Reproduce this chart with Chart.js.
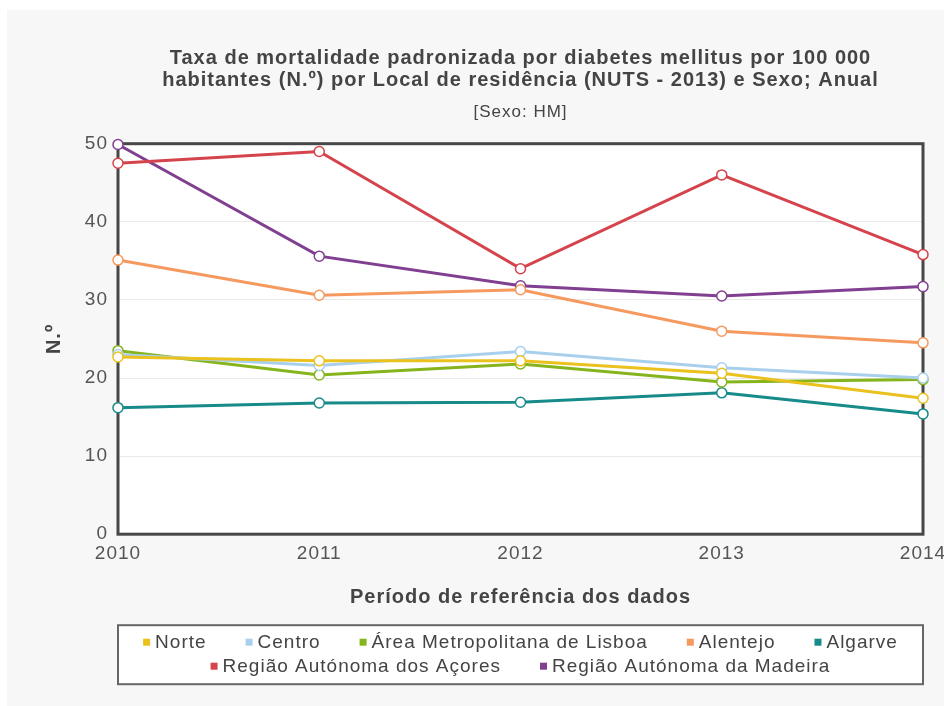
<!DOCTYPE html>
<html>
<head>
<meta charset="utf-8">
<script src="https://cdn.jsdelivr.net/npm/chart.js@4.4.1/dist/chart.umd.min.js"></script>
<style>
  body { margin: 0; background: #fff; }
  canvas { display: block; }
</style>
</head>
<body>
<canvas id="myChart" width="944" height="706"></canvas>
<script>
// data
const years = ['2010', '2011', '2012', '2013', '2014'];
const norte    = [22.7, 22.2, 22.2, 20.6, 17.4];
const centro   = [23.0, 21.6, 23.4, 21.3, 20.0];
const lisboa   = [23.5, 20.4, 21.8, 19.5, 19.8];
const alentejo = [35.1, 30.6, 31.3, 26.0, 24.5];
const algarve  = [16.2, 16.8, 16.9, 18.1, 15.4];
const acores   = [47.5, 49.0, 34.0, 46.0, 35.8];
const madeira  = [49.9, 35.6, 31.8, 30.5, 31.7];

const names = ['Norte', 'Centro', 'Área Metropolitana de Lisboa', 'Alentejo', 'Algarve',
  'Região Autónoma dos Açores', 'Região Autónoma da Madeira'];
const colors = ['#ebc11e', '#a8d0ec', '#86b41c', '#f6995f', '#178a8a', '#d5434c', '#803f90'];
const values = [norte, centro, lisboa, alentejo, algarve, acores, madeira];

const font = "'Liberation Sans', Arial, sans-serif";

// the original text is drawn wide, so space the letters a little
const spacing = {
  id: 'spacing',
  afterInit(chart) { chart.ctx.letterSpacing = '1px'; },
  beforeLayout(chart) { chart.ctx.letterSpacing = '1px'; }
};

// backgrounds and plot frame
const frame = {
  id: 'frame',
  beforeDraw(chart) {
    const ctx = chart.ctx;
    const a = chart.chartArea;
    ctx.save();
    ctx.fillStyle = '#fff';
    ctx.fillRect(0, 0, chart.width, chart.height);
    ctx.fillStyle = '#f7f7f7';
    ctx.fillRect(7, 10, chart.width - 7, chart.height - 10);
    ctx.fillStyle = '#fff';
    ctx.fillRect(a.left, a.top, a.right - a.left, a.bottom - a.top);
    ctx.restore();
  },
  beforeDatasetsDraw(chart) {
    const ctx = chart.ctx;
    const a = chart.chartArea;
    ctx.save();
    ctx.strokeStyle = '#474747';
    ctx.lineWidth = 3;
    ctx.strokeRect(a.left, a.top, a.right - a.left, a.bottom - a.top);
    ctx.restore();
  }
};

// boxed legend under the axis title, items spaced like the original
const boxLegend = {
  id: 'boxLegend',
  afterDraw(chart) {
    const ctx = chart.ctx;
    const a = chart.chartArea;
    const top = a.bottom + 91;
    const gap = 39;
    ctx.save();
    ctx.fillStyle = '#fff';
    ctx.fillRect(a.left, top, a.right - a.left, 59);
    ctx.strokeStyle = '#666';
    ctx.lineWidth = 2;
    ctx.strokeRect(a.left, top, a.right - a.left, 59);

    ctx.font = '19px ' + font;
    ctx.textBaseline = 'middle';
    const items = chart.data.datasets.map(ds => ({
      label: ds.label,
      color: ds.borderColor,
      w: 12 + ctx.measureText(ds.label).width
    }));
    const maxW = a.right - a.left - 20;
    const rows = [[]];
    let rowW = 0;
    items.forEach(it => {
      const row = rows[rows.length - 1];
      const add = (row.length ? gap : 0) + it.w;
      if (row.length && rowW + add > maxW) {
        rows.push([it]);
        rowW = it.w;
      } else {
        row.push(it);
        rowW += add;
      }
    });
    rows.forEach((row, r) => {
      const total = row.reduce((s, it) => s + it.w, 0) + gap * (row.length - 1);
      let x = (a.left + a.right) / 2 - total / 2;
      const y = top + 17 + r * 24;
      row.forEach(it => {
        ctx.fillStyle = it.color;
        ctx.fillRect(x, y - 3.5, 7, 7);
        ctx.fillStyle = '#444';
        ctx.fillText(it.label, x + 12, y + 1);
        x += it.w + gap;
      });
    });
    ctx.restore();
  }
};

const ctx = document.getElementById('myChart');

new Chart(ctx, {
  type: 'line',
  data: {
    labels: years,
    datasets: values.map((v, i) => ({
      label: names[i],
      data: v,
      borderColor: colors[i],
      backgroundColor: colors[i],
      borderWidth: 3,
      pointRadius: 5,
      pointBorderWidth: 1.5,
      pointBackgroundColor: '#fff',
      pointBorderColor: colors[i],
      tension: 0,
      clip: false
    }))
  },
  options: {
    responsive: false,
    animation: false,
    layout: { padding: { left: 42, right: 21, top: 47, bottom: 97 } },
    plugins: {
      title: {
        display: true,
        fullSize: false,
        text: ['Taxa de mortalidade padronizada por diabetes mellitus por 100 000',
               'habitantes (N.º) por Local de residência (NUTS - 2013) e Sexo; Anual'],
        color: '#444',
        font: { family: font, size: 20, weight: 'bold', lineHeight: 1.1 },
        padding: { top: 0, bottom: 4 }
      },
      subtitle: {
        display: true,
        fullSize: false,
        text: '[Sexo: HM]',
        color: '#444',
        font: { family: font, size: 17, lineHeight: 1.1 },
        padding: { top: 8, bottom: 22 }
      },
      legend: { display: false },
      tooltip: { enabled: false }
    },
    scales: {
      x: {
        afterFit(scale) { scale.paddingLeft = 0; scale.paddingRight = 0; },
        grid: { display: false, drawTicks: false },
        border: { display: false },
        ticks: { color: '#555', font: { family: font, size: 19 }, padding: 8, maxRotation: 0 },
        title: {
          display: true,
          text: 'Período de referência dos dados',
          color: '#444',
          font: { family: font, size: 20, weight: 'bold' },
          padding: { top: 12, bottom: 0 }
        }
      },
      y: {
        min: 0,
        max: 50,
        afterFit(scale) { scale.width = 76; },
        grid: { color: '#e9e9e9', drawTicks: false },
        border: { display: false },
        ticks: { stepSize: 10, color: '#555', font: { family: font, size: 19 }, padding: 10 },
        title: {
          display: true,
          text: 'N.º',
          color: '#444',
          font: { family: font, size: 20, weight: 'bold' },
          padding: { top: 0, bottom: 0 }
        }
      }
    }
  },
  plugins: [spacing, frame, boxLegend]
});
</script>
</body>
</html>
